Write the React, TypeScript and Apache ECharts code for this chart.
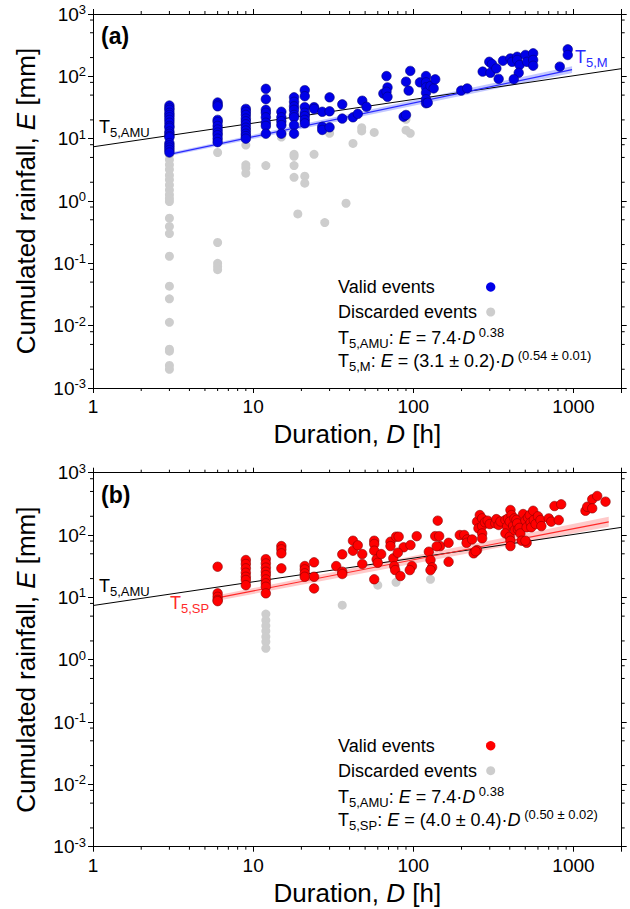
import React, { useEffect, useRef } from 'react';
import * as echarts from 'echarts';

const FONT = '"Liberation Sans", Arial, Helvetica, sans-serif';

const X_MIN = 1;
const X_MAX = 2000;
const Y_MIN = 0.001;
const Y_MAX = 1000;

const xMinorTicks = [2, 3, 4, 5, 6, 7, 8, 9, 20, 30, 40, 50, 60, 70, 80, 90, 200, 300, 400, 500, 600, 700, 800, 900];
const yMinorTicks = [0.002, 0.005, 0.008, 0.02, 0.05, 0.08, 0.2, 0.5, 0.8, 2, 5, 8, 20, 50, 80, 200, 500, 800];

// Panel (a): valid events [D h, E mm]
const validA: number[][] = [
  [3, 34], [3, 31], [3, 29], [3, 26], [3, 24], [3, 22], [3, 20], [3, 18], [3, 16], [3, 15], [3, 13], [3, 12], [3, 11], [3, 10.5], [3, 8.5], [3, 7.8], [3, 7.2], [3, 6.6], [3, 6.0],
  [6, 38], [6, 35], [6, 33], [6, 20], [6, 18.5], [6, 16], [6, 14], [6, 12.5], [6, 11.4], [6, 10], [6, 8.8],
  [9, 30], [9, 27], [9, 24], [9, 21], [9, 19], [9, 17], [9, 15], [9, 13.5], [9, 12], [9, 11], [9, 10],
  [12, 63], [12, 43], [12, 29], [12, 26], [12, 22], [12, 18], [12, 16], [12, 12],
  [15, 27], [15, 22], [15, 19], [15, 16.5], [15, 12],
  [18, 46], [18, 39], [18, 33], [18, 29], [18, 24], [18, 22], [18, 16.5], [18, 12],
  [21, 60], [21, 48], [21, 32], [21, 26], [21, 23], [21, 20], [21, 17.6],
  [24, 32], [24, 30],
  [27, 27], [27, 15.5], [27, 13.8],
  [30, 46], [30, 27.5], [30, 15.2],
  [36, 35.5], [36, 21],
  [42, 22], [45, 25], [48, 40.6], [51, 32.5],
  [65, 53], [68, 101], [69, 66.5], [68, 56.6], [69, 47],
  [87, 22.5], [90, 24], [90, 82], [93.5, 59], [95.7, 122],
  [110, 80], [120, 101], [120, 80], [120, 66.5], [120, 54.6], [120, 42.8], [120, 37], [123, 37.7], [128, 70], [134, 64], [137, 89.5],
  [199, 59], [217, 64],
  [271, 119], [298, 171], [310, 157], [303, 114], [330, 134], [341, 91], [363, 178], [404, 194], [414, 171], [445, 206], [445, 183], [461, 152], [455, 114], [424, 90],
  [501, 220], [513, 171], [560, 234], [560, 183], [560, 148], [821, 143], [921, 271], [921, 220],
];

// Panel (a): discarded events
const discardedA: number[][] = [
  [3, 5.5], [3, 4.6], [3, 3.8], [3, 3.2], [3, 2.6], [3, 2.2], [3, 1.8], [3, 1.5], [3, 1.26], [3, 1.1], [3, 0.98], [3, 0.53], [3, 0.39], [3, 0.3], [3, 0.13], [3, 0.043], [3, 0.027], [3, 0.0113], [3, 0.0042], [3, 0.0039], [3, 0.0023], [3, 0.002],
  [6, 6], [6, 0.216], [6, 0.1], [6, 0.089], [6, 0.079],
  [9, 7.9], [9, 3.8], [9, 3.4], [9, 2.8],
  [12, 3.7], [15, 10.6],
  [18, 5.6], [18, 5.2], [18, 3.7], [18, 2.4], [19, 0.62], [21, 2.5], [21, 1.93], [24, 5.6], [28, 0.45], [30, 12.2], [38, 0.92], [42, 8.4],
  [47.6, 15], [47.6, 13.3], [57, 12.6], [90, 20.4], [90, 13.7], [95.7, 12.2],
];

// Panel (b): valid events
const validB: number[][] = [
  [6, 31], [6, 11.6], [6, 10.2], [6, 9.1], [6, 8.7],
  [9, 39.7], [9, 34.3], [9, 29.2], [9, 24.8], [9, 21.4], [9, 19], [9, 15.7],
  [12, 41], [12, 35], [12, 30], [12, 25.8], [12, 22.8], [12, 19.4], [12, 16.8], [12, 14.8], [12, 11.6],
  [15, 66.5], [15, 58.9], [15, 50.8], [15, 29.2],
  [21, 31.8], [21, 28.1], [21, 24.3], [21, 21.4],
  [24, 36.5], [24, 21.4], [24, 13.9],
  [33, 31.8],
  [36, 49], [36, 25.8], [36, 23.7],
  [42, 81], [42, 56], [45, 68.4], [48, 49.5], [48, 34.3],
  [57, 81], [57, 71.8], [57, 56], [57, 19.5], [59, 40.7], [60, 35.9], [63, 49.5],
  [72, 78], [72, 66.5], [78, 94], [81, 94], [75, 42.3], [76, 31.8], [77, 27.4], [83, 22], [87, 63.5], [80, 52], [96, 69], [98, 31.8], [95, 27.4], [105, 96],
  [125, 54], [128, 39.7], [131, 30.3], [128, 27.4], [137, 96], [142, 170], [145, 96], [147, 66.5], [140, 66], [166, 75], [166, 37.2],
  [195, 100], [208, 100], [217, 85], [215, 75], [233, 85], [238, 50.8], [250, 164], [255, 128], [250, 57.4], [245, 55],
  [260, 209], [269, 185], [269, 139], [269, 106], [269, 88.5], [280, 160], [291, 170], [300, 150], [325, 154], [330, 180], [341, 145], [350, 165],
  [376, 174], [385, 136], [376, 106], [390, 185], [400, 94], [404, 252], [410, 209], [400, 164], [404, 81], [404, 66.5], [420, 140], [428, 185], [430, 120],
  [440, 175], [445, 154], [450, 123], [460, 130], [466, 106], [475, 81], [485, 217], [501, 170], [510, 133], [510, 75], [501, 81], [520, 190],
  [533, 209], [540, 158], [545, 133], [560, 245], [565, 174], [580, 150], [600, 200], [622, 174], [630, 139], [701, 185], [726, 164], [809, 174],
  [761, 292], [838, 311], [1188, 245], [1218, 284], [1309, 374], [1309, 268], [1406, 423], [1585, 343],
];

// Panel (b): discarded events
const discardedB: number[][] = [
  [12, 5.4], [12, 4.3], [12, 3.5], [12, 2.9], [12, 2.33], [12, 1.94], [12, 1.52], [36, 7.5], [60, 15.7], [78, 17.4], [128, 19.5],
];

// Threshold lines (straight in log-log space) [D, E]
const amuLine: number[][] = [[1, 7.4], [2000, 132.9]];
const mLine: number[][] = [[3, 5.6], [980, 128]];
const mBandLow: number[][] = [[3, 5.25], [980, 113]];
const mBandHigh: number[][] = [[3, 5.95], [980, 145]];
const spLine: number[][] = [[6.2, 10], [1660, 163]];
const spBandLow: number[][] = [[6.2, 9.0], [1660, 136]];
const spBandHigh: number[][] = [[6.2, 11.0], [1660, 196]];

const BLUE = '#0000e8';
const RED = '#ff0000';
const GRAY = '#cdcdcd';
const BLUE_LINE = '#2a2aff';
const RED_LINE = '#ff2a2a';

const isDecade = (v: number) => Math.abs(Math.log10(v) - Math.round(Math.log10(v))) < 1e-6;

const nameRich = {
  n: { fontSize: 26, fontFamily: FONT, color: '#000' },
  i: { fontSize: 26, fontFamily: FONT, color: '#000', fontStyle: 'italic' },
};

function makeAxes(gridIndex: number) {
  const common = { type: 'log', logBase: 10, gridIndex, splitLine: { show: false }, minorTick: { show: false } };
  const line = { show: true, lineStyle: { color: '#000', width: 1 } };
  const tick = { show: true, inside: false, length: 5, lineStyle: { color: '#000', width: 1 } };
  const xAxes = [
    {
      ...common, min: X_MIN, max: X_MAX, position: 'bottom', axisLine: line, axisTick: tick,
      axisLabel: {
        show: true, margin: 9, fontSize: 19, fontFamily: FONT, color: '#000',
        formatter: (v: number) => (isDecade(v) ? String(Math.round(v)) : ''),
      },
      name: '{n|Duration, }{i|D}{n| [h]}', nameLocation: 'middle', nameGap: 33,
      nameTextStyle: { rich: nameRich },
    },
    {
      ...common, min: X_MIN, max: X_MAX, position: 'top', axisLine: line, axisTick: tick,
      axisLabel: { show: false },
    },
  ];
  const yAxes = [
    {
      ...common, min: Y_MIN, max: Y_MAX, position: 'left', axisLine: line, axisTick: tick,
      axisLabel: {
        show: true, margin: 7, color: '#000',
        formatter: (v: number) => (isDecade(v) ? `{b|10}{s|${Math.round(Math.log10(v))}}` : ''),
        rich: {
          b: { fontSize: 19, fontFamily: FONT, color: '#000', lineHeight: 22 },
          s: { fontSize: 13, fontFamily: FONT, color: '#000', lineHeight: 13, verticalAlign: 'top' },
        },
      },
      name: '{n|Cumulated rainfall, }{i|E}{n| [mm]}', nameLocation: 'middle', nameGap: 54, nameRotate: 90,
      nameTextStyle: { rich: nameRich },
    },
    {
      ...common, min: Y_MIN, max: Y_MAX, position: 'right', axisLine: line, axisTick: tick,
      axisLabel: { show: false },
    },
  ];
  return { xAxes, yAxes };
}

function minorTickData() {
  const d: number[][] = [];
  xMinorTicks.forEach((v) => {
    d.push([v, Y_MIN, 0, 1]);
    d.push([v, Y_MAX, 0, -1]);
  });
  yMinorTicks.forEach((v) => {
    d.push([X_MIN, v, -1, 0]);
    d.push([X_MAX, v, 1, 0]);
  });
  return d;
}

function makeSeries(ax: number, valid: number[][], discarded: number[][], color: string, border: string,
  fit: number[][], low: number[][], high: number[][], lineColor: string, bandColor: string) {
  return [
    {
      type: 'custom', xAxisIndex: ax, yAxisIndex: ax, silent: true, z: 1,
      data: [fit[0]],
      renderItem: (_p: any, api: any) => {
        const pts = [...low.map((p) => api.coord(p)), ...high.slice().reverse().map((p) => api.coord(p))];
        return { type: 'polygon', shape: { points: pts }, style: { fill: bandColor } };
      },
    },
    {
      type: 'line', xAxisIndex: ax, yAxisIndex: ax, data: amuLine, symbol: 'none', silent: true, z: 2,
      lineStyle: { color: '#000', width: 1 },
    },
    {
      type: 'line', xAxisIndex: ax, yAxisIndex: ax, data: fit, symbol: 'none', silent: true, z: 2,
      lineStyle: { color: lineColor, width: 1.2 },
    },
    {
      name: 'Discarded events', type: 'scatter', xAxisIndex: ax, yAxisIndex: ax, data: discarded, z: 3,
      symbol: 'circle', symbolSize: 9, itemStyle: { color: GRAY, opacity: 1 },
    },
    {
      name: 'Valid events', type: 'scatter', xAxisIndex: ax, yAxisIndex: ax, data: valid, z: 4,
      symbol: 'circle', symbolSize: 9.5, itemStyle: { color, borderColor: border, borderWidth: 0.6, opacity: 1 },
    },
    {
      type: 'custom', xAxisIndex: ax, yAxisIndex: ax, silent: true, z: 5, clip: false,
      data: minorTickData(),
      renderItem: (_p: any, api: any) => {
        const p = api.coord([api.value(0), api.value(1)]);
        const dx = api.value(2);
        const dy = api.value(3);
        return {
          type: 'line',
          shape: { x1: p[0], y1: p[1], x2: p[0] + dx * 3, y2: p[1] + dy * 3 },
          style: { stroke: '#000', lineWidth: 1 },
        };
      },
    },
  ];
}

function richFor(c: string) {
  return {
    n: { fontSize: 18, fontFamily: FONT, fill: c, color: c, lineHeight: 24 },
    i: { fontSize: 18, fontFamily: FONT, fill: c, color: c, lineHeight: 24, fontStyle: 'italic' },
    sub: { fontSize: 13, fontFamily: FONT, fill: c, color: c, lineHeight: 13, verticalAlign: 'bottom' },
    sup: { fontSize: 13, fontFamily: FONT, fill: c, color: c, lineHeight: 13, verticalAlign: 'top' },
  };
}

function text(x: number, y: number, t: string, c: string) {
  return {
    type: 'text', x, y, silent: true,
    style: { text: t, rich: richFor(c), fontFamily: FONT, fontSize: 18, fill: c, align: 'left', verticalAlign: 'middle' },
  };
}

function panelGraphics(dy: number, label: string, markerColor: string, fitLabel: string, eq: string, fitColor: string, fitPos: number[]) {
  return [
    {
      type: 'text', x: 101, y: 36 + dy, silent: true,
      style: { text: label, fontFamily: FONT, fontSize: 23, fontWeight: 'bold', fill: '#000', align: 'left', verticalAlign: 'middle' },
    },
    text(99, 127 + dy, '{n|T}{sub|5,AMU}', '#000'),
    text(fitPos[0], fitPos[1], fitLabel, fitColor),
    text(338, 287 + dy, '{n|Valid events}', '#000'),
    text(338, 312 + dy, '{n|Discarded events}', '#000'),
    { type: 'circle', silent: true, shape: { cx: 490.7, cy: 287 + dy, r: 4.7 }, style: { fill: markerColor } },
    { type: 'circle', silent: true, shape: { cx: 490.7, cy: 312 + dy, r: 4.5 }, style: { fill: GRAY } },
    text(338, 338 + dy, '{n|T}{sub|5,AMU}{n|: }{i|E}{n| = 7.4·}{i|D}{sup| 0.38}', '#000'),
    text(338, 361 + dy, eq, '#000'),
  ];
}

export default function App() {
  const ref = useRef<HTMLDivElement>(null);
  useEffect(() => {
    if (!ref.current) return;
    const chart = echarts.init(ref.current, undefined, { renderer: 'svg' });
    const a = makeAxes(0);
    const b = makeAxes(1);
    const DB = 458.7;
    const option: any = {
      animation: false,
      backgroundColor: '#fff',
      textStyle: { fontFamily: FONT },
      grid: [
        { left: 93, top: 14, width: 528.7, height: 374, outerBoundsMode: 'none', containLabel: false },
        { left: 93, top: 472.7, width: 528.7, height: 374, outerBoundsMode: 'none', containLabel: false },
      ],
      xAxis: [...a.xAxes, ...b.xAxes],
      yAxis: [...a.yAxes, ...b.yAxes],
      series: [
        ...makeSeries(0, validA, discardedA, BLUE, '#00007a', mLine, mBandLow, mBandHigh, BLUE_LINE, 'rgba(120,130,255,0.45)'),
        ...makeSeries(2, validB, discardedB, RED, '#8a0000', spLine, spBandLow, spBandHigh, RED_LINE, 'rgba(255,120,120,0.4)'),
      ],
      graphic: [
        ...panelGraphics(0, '(a)', BLUE, '{n|T}{sub|5,M}', '{n|T}{sub|5,M}{n|: }{i|E}{n| = (3.1 ± 0.2)·}{i|D}{sup| (0.54 ± 0.01)}', BLUE_LINE, [575, 57]),
        ...panelGraphics(DB, '(b)', RED, '{n|T}{sub|5,SP}', '{n|T}{sub|5,SP}{n|: }{i|E}{n| = (4.0 ± 0.4)·}{i|D}{sup| (0.50 ± 0.02)}', RED_LINE, [170, 603]),
      ],
    };
    chart.setOption(option);
    return () => chart.dispose();
  }, []);
  return <div ref={ref} style={{ position: 'fixed', left: 0, top: 0, width: 630, height: 909, background: '#fff' }} />;
}
